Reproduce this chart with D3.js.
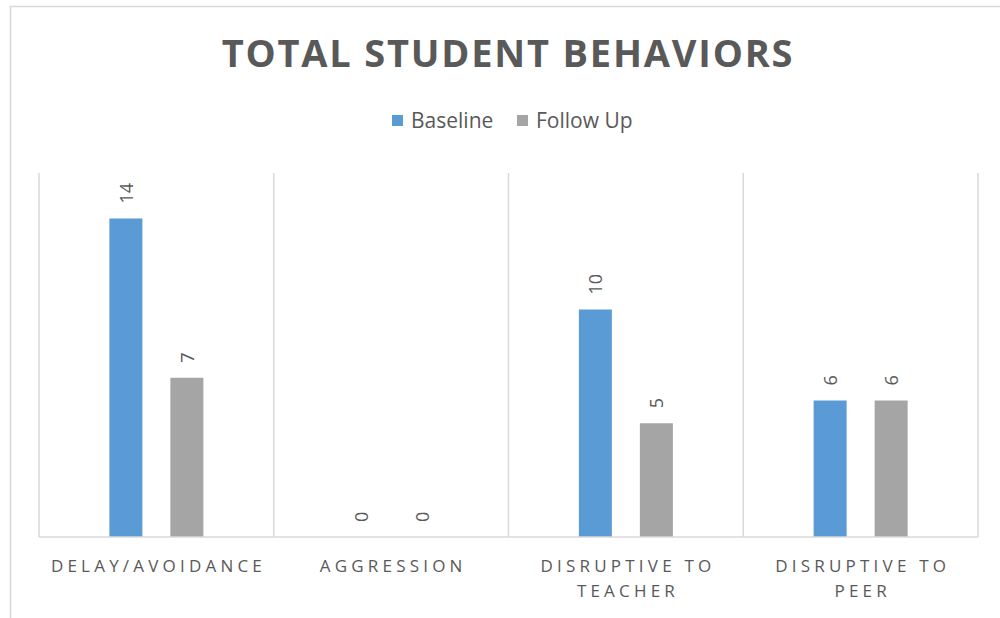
<!DOCTYPE html>
<html>
<head>
<meta charset="utf-8">
<script src="https://cdn.jsdelivr.net/npm/d3@7"></script>
<style>
  html, body { margin: 0; padding: 0; background: #fff; }
  svg { display: block; }
</style>
</head>
<body>
<svg id="chart" width="1000" height="618"></svg>
<script>
// Chart data
const categories = [["DELAY/AVOIDANCE"], ["AGGRESSION"], ["DISRUPTIVE TO", "TEACHER"], ["DISRUPTIVE TO", "PEER"]];
const seriesNames = ["Baseline", "Follow Up"];
const baseline = [14, 0, 10, 6];
const followUp = [7, 0, 5, 6];
const seriesColors = ["#5B9BD5", "#A5A5A5"];

const svg = d3.select("#chart");
const plot = { left: 39, right: 978, top: 173, bottom: 537 };
const textColor = "#595959";
const gridColor = "#D9D9D9";

// Chart frame
svg.append("rect")
  .attr("x", 10.5).attr("y", 6.5)
  .attr("width", 1000).attr("height", 640)
  .attr("fill", "#fff").attr("stroke", gridColor).attr("stroke-width", 1.5);

// Title
svg.append("text")
  .attr("x", 508).attr("y", 67)
  .attr("text-anchor", "middle")
  .attr("font-family", "'Open Sans', sans-serif")
  .attr("font-weight", 700)
  .attr("font-size", 38)
  .attr("letter-spacing", 1.8)
  .attr("fill", textColor)
  .text("TOTAL STUDENT BEHAVIORS");

// Legend
const legend = svg.append("g").attr("font-family", "'Open Sans', sans-serif").attr("font-size", 21).attr("fill", textColor);
const legendItems = [{ x: 392, name: seriesNames[0], color: seriesColors[0] }, { x: 517, name: seriesNames[1], color: seriesColors[1] }];
legendItems.forEach(d => {
  legend.append("rect").attr("x", d.x).attr("y", 115).attr("width", 11).attr("height", 11).attr("fill", d.color);
  legend.append("text").attr("x", d.x + 19).attr("y", 128).text(d.name);
});

// Scales
const x0 = d3.scaleBand().domain(d3.range(categories.length)).range([plot.left, plot.right]).padding(0);
const groupWidth = 94;
const inset = (x0.bandwidth() - groupWidth) / 2;
const x1 = d3.scaleBand().domain(seriesNames).range([inset, inset + groupWidth]).paddingInner(0.459).paddingOuter(0);
const y = d3.scaleLinear().domain([0, 16]).range([plot.bottom, plot.top]);

// Vertical category separators
const seps = d3.range(categories.length + 1).map(i => plot.left + i * x0.step());
svg.append("g").selectAll("line").data(seps).join("line")
  .attr("x1", d => d).attr("x2", d => d)
  .attr("y1", plot.top).attr("y2", plot.bottom)
  .attr("stroke", gridColor).attr("stroke-width", 1.5);

// Bars
const rows = categories.map((c, i) => ({ i, values: [baseline[i], followUp[i]] }));
const groups = svg.append("g").selectAll("g").data(rows).join("g")
  .attr("transform", d => `translate(${x0(d.i)},0)`);

groups.selectAll("rect").data(d => d.values.map((v, k) => ({ v, k }))).join("rect")
  .attr("x", d => x1(seriesNames[d.k]))
  .attr("y", d => y(d.v))
  .attr("width", x1.bandwidth())
  .attr("height", d => y(0) - y(d.v))
  .attr("fill", d => seriesColors[d.k]);

// Value labels, rotated
groups.selectAll("text").data(d => d.values.map((v, k) => ({ v, k }))).join("text")
  .attr("transform", d => `translate(${x1(seriesNames[d.k]) + x1.bandwidth() / 2},${y(d.v) - 15}) rotate(-90)`)
  .attr("dominant-baseline", "central")
  .attr("font-family", "'Open Sans', sans-serif")
  .attr("font-size", 18)
  .attr("fill", textColor)
  .text(d => d.v);

// Category axis line
svg.append("line")
  .attr("x1", plot.left).attr("x2", plot.right)
  .attr("y1", plot.bottom).attr("y2", plot.bottom)
  .attr("stroke", gridColor).attr("stroke-width", 1.5);

// Category labels
const labelSpacing = 4.2;
const catLabels = svg.append("g")
  .attr("font-family", "'Open Sans', sans-serif")
  .attr("font-size", 17)
  .attr("letter-spacing", labelSpacing)
  .attr("fill", textColor)
  .attr("text-anchor", "middle");
categories.forEach((lines, i) => {
  lines.forEach((t, j) => {
    catLabels.append("text")
      .attr("x", x0(i) + x0.bandwidth() / 2 + labelSpacing / 2)
      .attr("y", 572 + j * 25)
      .text(t);
  });
});
</script>
</body>
</html>
